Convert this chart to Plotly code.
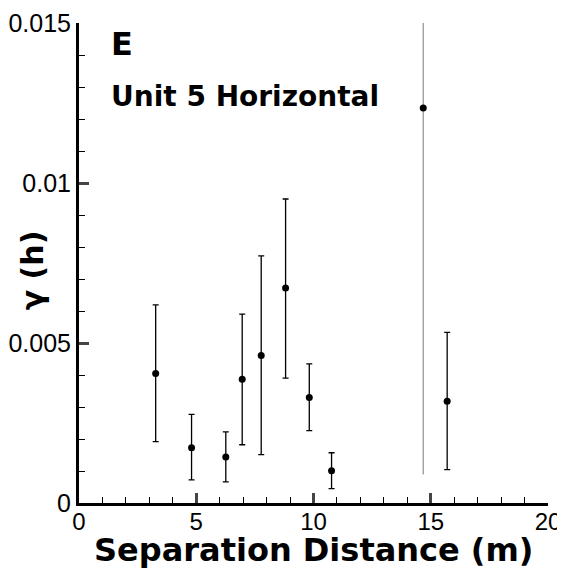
import plotly.graph_objects as go

x = [3.27, 4.80, 6.26, 6.96, 7.77, 8.81, 9.82, 10.77, 14.68, 15.70]
y = [0.00405, 0.00173, 0.00144, 0.00387, 0.00461, 0.00672, 0.00330, 0.00101, 0.01234, 0.00318]
hi = [0.00619, 0.00277, 0.00222, 0.00590, 0.00772, 0.00950, 0.00435, 0.00157, 0.01500, 0.00533]
lo = [0.00192, 0.00072, 0.00066, 0.00182, 0.00151, 0.00390, 0.00226, 0.00045, 0.00089, 0.00104]

BOLD = "DejaVu Sans"
fig = go.Figure()
for i in range(len(x)):
    grey = i == 8
    fig.add_trace(go.Scatter(
        x=[x[i]], y=[y[i]], mode="markers",
        marker=dict(color="black", size=7),
        error_y=dict(type="data", symmetric=False, array=[hi[i]-y[i]], arrayminus=[y[i]-lo[i]],
                     color="#999999" if grey else "black", thickness=1.3, width=0 if grey else 3),
        showlegend=False, cliponaxis=False))

fig.update_layout(
    width=557, height=561, plot_bgcolor="white", paper_bgcolor="white",
    margin=dict(l=71, r=17, t=15, b=66, autoexpand=False),
    font=dict(family="Liberation Sans", color="black"),
    annotations=[
        dict(x=0.065, y=1.0, xref="paper", yref="paper", text="<b>E</b>", showarrow=False,
             font=dict(size=32, family=BOLD), xanchor="left", yanchor="top"),
        dict(x=0.065, y=0.885, xref="paper", yref="paper", text="<b>Unit 5 Horizontal</b>", showarrow=False,
             font=dict(size=28, family=BOLD), xanchor="left", yanchor="top"),
        dict(x=0.5, y=-0.097, xref="paper", yref="paper", text="<b>Separation Distance (m)</b>", showarrow=False,
             font=dict(size=32, family=BOLD), xanchor="center", yanchor="middle"),
        dict(x=-0.1, y=0.485, xref="paper", yref="paper", text="<b>γ (h)</b>", showarrow=False,
             font=dict(size=30, family=BOLD), xanchor="center", yanchor="middle", textangle=-90),
    ])
fig.update_xaxes(range=[0, 20], tickvals=[0, 5, 10, 15, 20], ticks="inside", ticklen=10, tickwidth=3,
                 showline=True, linewidth=3, linecolor="black", showgrid=False, zeroline=False,
                 tickfont=dict(size=24), automargin=False, ticklabelstandoff=-5,
                 minor=dict(dtick=1, ticks="inside", ticklen=6, tickwidth=1, tickcolor="black"))
fig.update_yaxes(range=[0, 0.015], tickvals=[0, 0.005, 0.01, 0.015], ticktext=["0", "0.005", "0.01", "0.015"],
                 ticks="inside", ticklen=10, tickwidth=3, automargin=False,
                 showline=True, linewidth=3, linecolor="black", showgrid=False, zeroline=False,
                 tickfont=dict(size=25),
                 minor=dict(dtick=0.001, ticks="inside", ticklen=6, tickwidth=1, tickcolor="black"))
fig.write_html("out.html")
